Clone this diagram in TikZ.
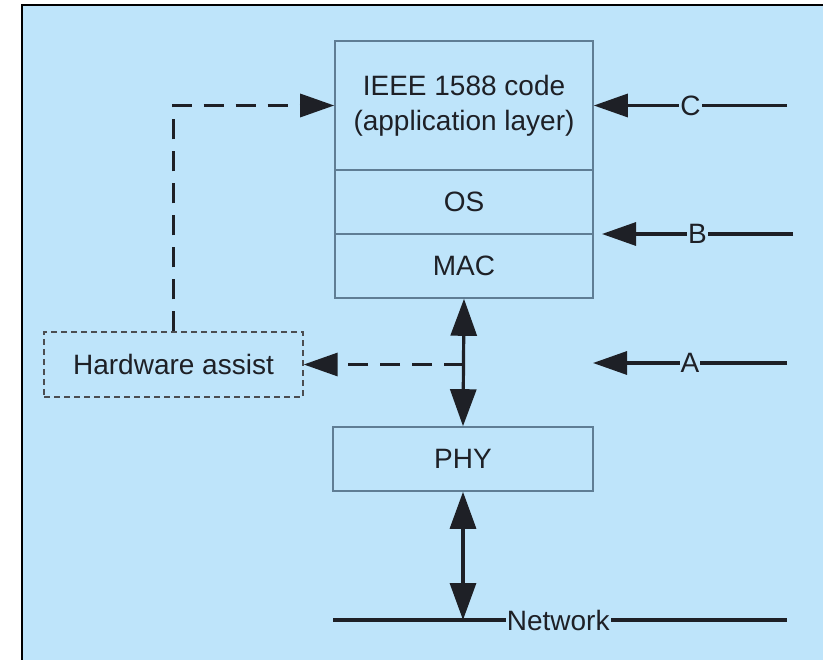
\documentclass[tikz,border=0pt]{standalone}
\usepackage{fontspec}
\setmainfont{Liberation Sans}
\usetikzlibrary{arrows.meta}
\definecolor{bgblue}{RGB}{190,228,250}
\definecolor{boxline}{RGB}{95,125,148}
\definecolor{ink}{RGB}{30,32,38}
\begin{document}
\begin{tikzpicture}[x=1pt,y=-1pt,font=\fontsize{28}{35}\selectfont,
  layer/.style={draw=boxline,line width=1.6pt,minimum width=258pt,inner sep=0pt,text=ink,align=center},
  wire/.style={line width=3.2pt,draw=ink},
  dashes/.style={dash pattern=on 20pt off 12pt},
  tip/.style={-{Triangle[length=34pt,width=23pt]}},
  tips/.style={{Triangle[length=37pt,width=26pt]}-{Triangle[length=37pt,width=26pt]}},
  tag/.style={fill=bgblue,inner sep=1pt,text=ink}]
\useasboundingbox (0,0) rectangle (823,660);
\fill[bgblue] (22,5) rectangle (823,660);
\draw[line width=2.8pt] (22,660) -- (22,5) -- (823,5);
% protocol stack
\node[layer,minimum height=129pt] (app) at (464,105.5) {IEEE 1588 code\\(application layer)};
\node[layer,minimum height=64pt] (os) at (464,202) {OS};
\node[layer,minimum height=64pt] (mac) at (464,266) {MAC};
\node[layer,minimum width=260pt,minimum height=64pt] (phy) at (463,459) {PHY};
\node[layer,draw=ink!80,line width=1.4pt,dash pattern=on 6pt off 4pt,minimum width=259pt,minimum height=65pt] (hw) at (173.5,364.5) {Hardware assist};
% network
\coordinate (netL) at (333,620);
\coordinate (netR) at (787,620);
\draw[wire] (netL) -- node[tag,pos=.496] {Network} (netR);
\draw[wire,tips] (mac.south) -- (phy.north);
\draw[wire,tips] (phy.south) -- (phy.south |- netL);
% hardware assist path
\coordinate (tap) at (mac.south |- hw.east);
\draw[wire,dashes,tip] (tap) -- (hw.east);
\draw[wire,dashes,tip] (hw.north) -- (hw.north |- app.west) -- (app.west);
% timestamp points
\coordinate (cin) at (787,105.5);
\coordinate (bin) at (793,234);
\coordinate (bout) at (602,234);
\coordinate (ain) at (787,363);
\coordinate (aout) at (593,363);
\draw[wire,tip] (cin) -- node[tag] {C} (app.east);
\draw[wire,tip] (bin) -- node[tag] {B} (bout);
\draw[wire,tip] (ain) -- node[tag] {A} (aout);
\end{tikzpicture}
\end{document}
